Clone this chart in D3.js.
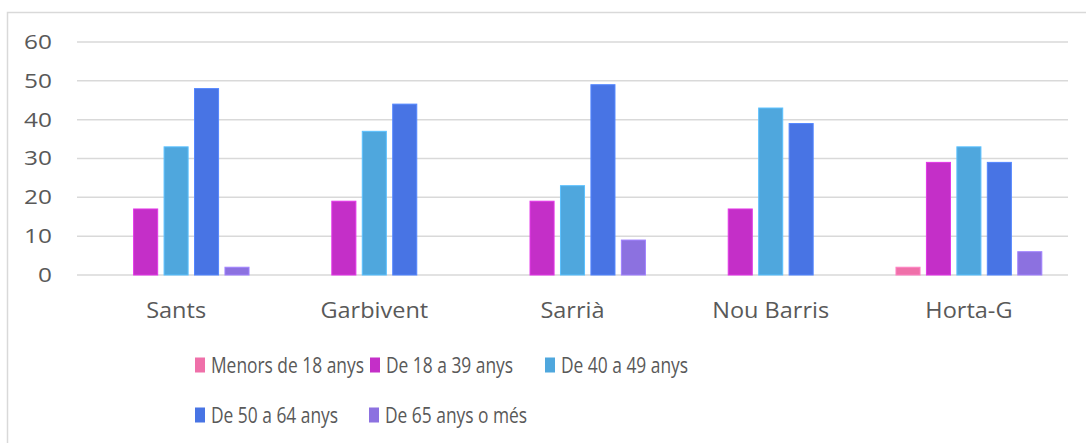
<!DOCTYPE html>
<html>
<head>
<meta charset="utf-8">
<script src="https://cdn.jsdelivr.net/npm/d3@7"></script>
<style>
  body { margin: 0; background: #fff; }
  text { font-family: 'Open Sans', sans-serif; fill: #595959; }
</style>
</head>
<body>
<div class="chart"></div>
<script>
var width = 1086
var height = 443

var districts = ['Sants', 'Garbivent', 'Sarrià', 'Nou Barris', 'Horta-G']
var groups = ['Menors de 18 anys', 'De 18 a 39 anys', 'De 40 a 49 anys', 'De 50 a 64 anys', 'De 65 anys o més']
var colors = ['#ef70a9', '#c42fc8', '#4fa7dd', '#4874e4', '#8c71e0']

var menors18 = [0, 0, 0, 0, 2]
var de18a39 = [17, 19, 19, 17, 29]
var de40a49 = [33, 37, 23, 43, 33]
var de50a64 = [48, 44, 49, 39, 29]
var de65 = [2, 0, 9, 0, 6]
var yTicks = [0, 10, 20, 30, 40, 50, 60]

var series = [menors18, de18a39, de40a49, de50a64, de65]

var svg = d3.select('.chart').append('svg')
    .attr('width', width)
    .attr('height', height)

// chart border
svg.append('rect')
    .attr('x', 7.5).attr('y', 12.5)
    .attr('width', 1090).attr('height', 450)
    .attr('fill', 'none')
    .attr('stroke', '#d9d9d9')
    .attr('stroke-width', 1.5)

var x = d3.scaleBand().domain(districts).range([77, 1068])
var y = d3.scaleLinear().domain([0, 60]).range([275, 42])
var inner = d3.scaleBand().domain(d3.range(groups.length)).range([0, x.bandwidth()])
    .paddingOuter(0.86).paddingInner(0.21)

// grid
svg.selectAll('.grid').data(yTicks).enter().append('line')
    .attr('x1', 77).attr('x2', 1068)
    .attr('y1', function (d) { return y(d) }).attr('y2', function (d) { return y(d) })
    .attr('stroke', '#d9d9d9').attr('stroke-width', 1.5)

var yAxis = svg.append('g')
    .attr('transform', 'translate(52,0)')
    .call(d3.axisLeft(y).tickValues(yTicks).tickSize(0).tickPadding(0))
yAxis.select('.domain').remove()
yAxis.selectAll('text')
    .attr('font-size', 20).attr('font-family', null).attr('fill', null)
    .attr('transform', 'scale(1.22,1)')

// bars
series.forEach(function (vals, i) {
    svg.selectAll('.bar' + i).data(vals).enter().append('rect')
        .attr('x', function (d, j) { return x(districts[j]) + inner(i) })
        .attr('width', inner.bandwidth())
        .attr('y', function (d) { return y(d) })
        .attr('height', function (d) { return y(0) - y(d) })
        .attr('fill', colors[i])
        .attr('stroke', d3.color(colors[i]).brighter(0.4))
        .attr('stroke-width', 1)
        .attr('display', function (d) { return d > 0 ? null : 'none' })
})

var xAxis = svg.append('g')
    .attr('transform', 'translate(0,303)')
    .call(d3.axisBottom(x).tickSize(0).tickPadding(0))
xAxis.select('.domain').remove()
xAxis.selectAll('text')
    .attr('font-size', 21).attr('font-family', null).attr('fill', null)
    .attr('dy', '0.71em')
    .attr('transform', 'scale(1.12,1)')

// legend
var legendPos = [[195, 365], [370, 365], [545, 365], [195, 415], [369, 415]]
var legend = svg.selectAll('.legend').data(groups).enter().append('g')
    .attr('transform', function (d, i) { return 'translate(' + legendPos[i][0] + ',' + legendPos[i][1] + ')' })
legend.append('rect')
    .attr('x', 0).attr('y', -7.5).attr('width', 10).attr('height', 15)
    .attr('fill', function (d, i) { return colors[i] })
legend.append('text')
    .attr('transform', 'translate(16,0) scale(0.79,1)')
    .attr('dy', '0.36em')
    .attr('font-size', 22)
    .text(function (d) { return d })
</script>
</body>
</html>
